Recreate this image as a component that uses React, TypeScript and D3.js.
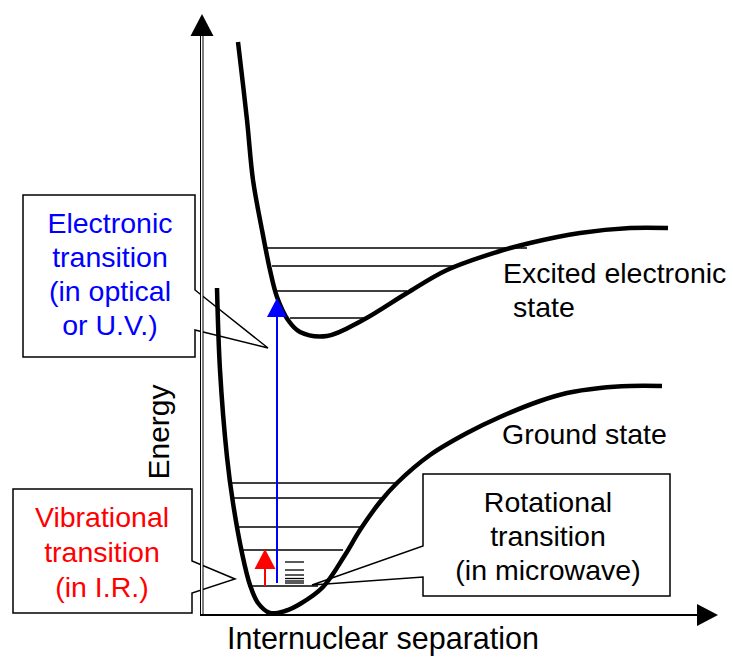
import React from "react";
import * as d3 from "d3";

// Potential energy curves (x: internuclear separation units, y: energy units)
const groundCurve: [number, number][] = [
  [15, 327], [18, 245], [25, 158], [31, 112], [40, 62], [48, 30], [56, 12], [68, 2],
  [83, 4], [98, 11], [121, 28], [143, 60], [158, 85], [178, 113], [195, 132], [228, 160],
  [265, 182], [298, 198], [338, 214], [365, 222], [398, 227], [428, 229], [460, 229],
];
const excitedCurve: [number, number][] = [
  [36, 573], [45, 495], [51, 435], [60, 385], [68, 345], [75, 318], [86, 295], [98, 283],
  [125, 279], [161, 295], [205, 322], [245, 345], [295, 363], [328, 372], [378, 382],
  [428, 387], [466, 387],
];
// vibrational levels: [energy, xStart, xEnd]
const groundLevels: [number, number, number][] = [
  [132, 30, 195], [117, 31, 180], [88, 34, 158], [65, 38, 141], [29, 46, 116],
];
const excitedLevels: [number, number, number][] = [
  [367, 63, 325], [349, 70, 255], [324, 75, 205], [297, 88, 165],
];
const rotationalLevels: number[] = [53, 45, 40, 36.5, 34, 32];
const rotationalSpan: [number, number] = [83, 102];
const vibArrow = { x: 63, from: 29, to: 66 };
const elecArrow = { x: 75, from: 32, to: 317 };

const electronicText = ["Electronic", "transition", "(in optical", "or U.V.)"];
const vibrationalText = ["Vibrational", "transition", "(in I.R.)"];
const rotationalText = ["Rotational", "transition", "(in microwave)"];

const W = 733;
const H = 657;
const FONT = "'Liberation Sans', Arial, Helvetica, sans-serif";

const x = d3.scaleLinear().domain([0, 516]).range([202, 718]);
const y = d3.scaleLinear().domain([0, 601]).range([615, 14]);

const line = d3
  .line<[number, number]>()
  .x((d) => x(d[0]))
  .y((d) => y(d[1]))
  .curve(d3.curveCatmullRom.alpha(0.5));

function Callout({ path, lines, cx, y0, dy, color }: { path: string; lines: string[]; cx: number; y0: number; dy: number; color: string }) {
  return (
    <g>
      <path d={path} fill="#fff" stroke="#000" strokeWidth={1.5} strokeLinejoin="miter" />
      {lines.map((t, i) => (
        <text key={i} x={cx} y={y0 + i * dy} textAnchor="middle" fill={color} fontSize={28.5} fontFamily={FONT}>
          {t}
        </text>
      ))}
    </g>
  );
}

function arrowHead(px: number, py: number, len: number, half: number, dir: "up" | "right") {
  if (dir === "up") return `M${px},${py} L${px - half},${py + len} L${px + half},${py + len} Z`;
  return `M${px},${py} L${px - len},${py - half} L${px - len},${py + half} Z`;
}

export default function App() {
  return (
    <svg width={W} height={H} style={{ position: "absolute", left: 0, top: 0, background: "#fff" }}>
      {/* callouts */}
      <Callout
        path="M23,195 H195 V290 L268,348 L195,330 V357 H23 Z"
        lines={electronicText}
        cx={110}
        y0={233}
        dy={34}
        color="#0000ff"
      />
      <Callout
        path="M13,489 H192 V561 L235,579 L192,593 V613 H13 Z"
        lines={vibrationalText}
        cx={102}
        y0={527}
        dy={35}
        color="#ff0000"
      />
      <Callout
        path="M423,474 H670 V596 H423 V577 L312,585 L423,546 Z"
        lines={rotationalText}
        cx={548}
        y0={512}
        dy={34}
        color="#000"
      />

      {/* axes */}
      <rect x={200.5} y={34} width={2.5} height={581} fill="#fff" stroke="#000" strokeWidth={1} />
      <path d={arrowHead(202, 14, 22, 11.5, "up")} fill="#000" />
      <line x1={200} x2={700} y1={615} y2={615} stroke="#000" strokeWidth={2} />
      <path d={arrowHead(718, 615, 21, 11, "right")} fill="#000" />

      {/* vibrational levels */}
      {[...groundLevels, ...excitedLevels].map((l, i) => (
        <line key={"lv" + i} x1={x(l[1])} x2={x(l[2])} y1={y(l[0])} y2={y(l[0])} stroke="#000" strokeWidth={1.5} />
      ))}
      {rotationalLevels.map((e, i) => (
        <line key={"rl" + i} x1={x(rotationalSpan[0])} x2={x(rotationalSpan[1])} y1={y(e)} y2={y(e)} stroke="#000" strokeWidth={1.3} />
      ))}

      {/* curves */}
      <path d={line(groundCurve) || ""} fill="none" stroke="#000" strokeWidth={4.5} strokeLinecap="butt" />
      <path d={line(excitedCurve) || ""} fill="none" stroke="#000" strokeWidth={4.5} strokeLinecap="butt" />

      {/* transitions */}
      <line x1={x(elecArrow.x)} x2={x(elecArrow.x)} y1={y(elecArrow.from)} y2={y(elecArrow.to) + 18} stroke="#0000ff" strokeWidth={2} />
      <path d={arrowHead(x(elecArrow.x), y(elecArrow.to), 19, 10, "up")} fill="#0000ff" />
      <line x1={x(vibArrow.x)} x2={x(vibArrow.x)} y1={y(vibArrow.from)} y2={y(vibArrow.to) + 18} stroke="#ff0000" strokeWidth={2} />
      <path d={arrowHead(x(vibArrow.x), y(vibArrow.to), 20, 10.5, "up")} fill="#ff0000" />

      {/* labels */}
      <text x={503} y={283} fontSize={28.5} fontFamily={FONT} fill="#000">Excited electronic</text>
      <text x={513} y={317} fontSize={28.5} fontFamily={FONT} fill="#000">state</text>
      <text x={502} y={444} fontSize={28.5} fontFamily={FONT} fill="#000">Ground state</text>
      <text x={227} y={649} fontSize={30.5} fontFamily={FONT} fill="#000">Internuclear separation</text>
      <text transform="translate(169,432) rotate(-90)" textAnchor="middle" fontSize={30} fontFamily={FONT} fill="#000">Energy</text>
    </svg>
  );
}
